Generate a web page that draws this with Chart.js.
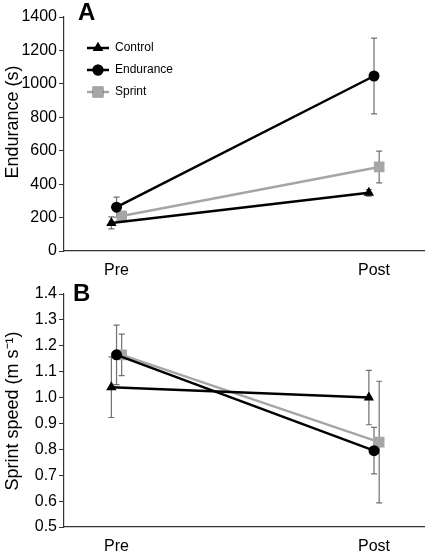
<!DOCTYPE html>
<html>
<head>
<meta charset="utf-8">
<script src="https://cdn.jsdelivr.net/npm/chart.js@4.4.1/dist/chart.umd.min.js"></script>
<style>
  html, body { margin: 0; padding: 0; background: #fff; }
  .panel { position: absolute; left: 0; width: 432px; height: 279px; }
  #panelA { top: 0; }
  #panelB { top: 279px; }
</style>
</head>
<body>
<div class="panel" id="panelA"><canvas id="chartA"></canvas></div>
<div class="panel" id="panelB"><canvas id="chartB"></canvas></div>
<script>
// Data
const categories = ['Pre', 'Post'];
const groups = ['Control', 'Endurance', 'Sprint'];

// Panel A - endurance (s)
const enduranceMean = {
    Control:   [168, 348],
    Endurance: [262, 1047],
    Sprint:    [210, 503]
};
const enduranceErr = {
    Control:   [36, 20],
    Endurance: [60, 227],
    Sprint:    [25, 95]
};
const enduranceTicks = [0, 200, 400, 600, 800, 1000, 1200, 1400];

// Panel B - sprint speed (m/s)
const speedMean = {
    Control:   [1.04, 1.00],
    Endurance: [1.165, 0.795],
    Sprint:    [1.165, 0.828]
};
const speedErr = {
    Control:   [0.117, 0.105],
    Endurance: [0.115, 0.09],
    Sprint:    [0.08, 0.235]
};
const speedTicks = [0.5, 0.6, 0.7, 0.8, 0.9, 1.0, 1.1, 1.2, 1.3, 1.4];

// styling per group
const styles = {
    Control:   { color: '#000000', point: 'triangle', radius: 6 },
    Endurance: { color: '#000000', point: 'circle', radius: 5.5 },
    Sprint:    { color: '#a6a6a6', point: 'rect', radius: 7.5 }
};
const jitter = { Control: -0.02, Endurance: 0, Sprint: 0.02 };
const FONT = '"Liberation Sans", Arial, Helvetica, sans-serif';

function buildDatasets(means, errs) {
    return groups.map(g => ({
        label: g,
        data: categories.map((c, i) => ({ x: i + jitter[g], y: means[g][i], err: errs[g][i] })),
        borderColor: styles[g].color,
        backgroundColor: styles[g].color,
        borderWidth: 2.5,
        pointStyle: styles[g].point,
        pointRadius: styles[g].radius,
        pointHoverRadius: styles[g].radius,
        pointBorderWidth: 0,
        tension: 0
    }));
}

// error bars drawn through the chart's own scales
const errorBars = {
    id: 'errorBars',
    beforeDatasetsDraw(chart) {
        const ctx = chart.ctx;
        const xs = chart.scales.x, ys = chart.scales.y;
        ctx.save();
        ctx.strokeStyle = '#707070';
        ctx.lineWidth = 1.2;
        chart.data.datasets.forEach(ds => {
            ds.data.forEach(p => {
                const x = xs.getPixelForValue(p.x);
                const top = ys.getPixelForValue(p.y + p.err);
                const bot = ys.getPixelForValue(p.y - p.err);
                ctx.beginPath();
                ctx.moveTo(x, top); ctx.lineTo(x, bot);
                ctx.moveTo(x - 3, top); ctx.lineTo(x + 3, top);
                ctx.moveTo(x - 3, bot); ctx.lineTo(x + 3, bot);
                ctx.stroke();
            });
        });
        ctx.restore();
    }
};

// panel letter, y title and optional inset legend
const decorations = {
    id: 'decorations',
    afterDraw(chart, args, opts) {
        const ctx = chart.ctx;
        ctx.save();
        ctx.fillStyle = '#000';
        ctx.font = 'bold 24px ' + FONT;
        ctx.textBaseline = 'middle';
        ctx.fillText(opts.letter, opts.letterX, opts.letterY);

        // y axis title
        ctx.save();
        ctx.translate(13, opts.titleY);
        ctx.rotate(-Math.PI / 2);
        ctx.textAlign = 'center';
        ctx.font = '18px ' + FONT;
        ctx.fillText(opts.title, 0, 0);
        ctx.restore();

        if (opts.legend) {
            ctx.font = '12px ' + FONT;
            chart.data.datasets.forEach((ds, i) => {
                const y = 48 + i * 22;
                ctx.strokeStyle = ds.borderColor;
                ctx.lineWidth = 2.5;
                ctx.beginPath();
                ctx.moveTo(87, y); ctx.lineTo(109, y);
                ctx.stroke();
                Chart.helpers.drawPoint(ctx, {
                    pointStyle: ds.pointStyle,
                    radius: ds.pointRadius,
                    borderWidth: 0
                }, 98, y);
                ctx.fillStyle = ds.backgroundColor;
                ctx.fill();
                ctx.fillStyle = '#000';
                ctx.fillText(ds.label, 115, y);
            });
        }
        ctx.restore();
    }
};

function makeChart(id, means, errs, yTicks, decimals, pad, xHeight, deco) {
    const yMin = yTicks[0], yMax = yTicks[yTicks.length - 1];
    return new Chart(document.getElementById(id).getContext('2d'), {
        type: 'line',
        data: { datasets: buildDatasets(means, errs) },
        plugins: [errorBars, decorations],
        options: {
            responsive: true,
            maintainAspectRatio: false,
            animation: false,
            layout: { padding: pad },
            plugins: {
                legend: { display: false },
                tooltip: { enabled: false },
                decorations: deco
            },
            scales: {
                x: {
                    type: 'linear',
                    min: -0.204,
                    max: 1.196,
                    afterBuildTicks: s => { s.ticks = categories.map((c, i) => ({ value: i })); },
                    afterFit: s => { s.height = xHeight; },
                    ticks: {
                        color: '#000',
                        font: { family: FONT, size: 16 },
                        padding: 10,
                        callback: v => categories[v]
                    },
                    grid: { display: false, drawTicks: false },
                    border: { color: '#333', width: 1.2 }
                },
                y: {
                    min: yMin,
                    max: yMax,
                    afterBuildTicks: s => { s.ticks = yTicks.map(v => ({ value: v })); },
                    afterFit: s => { s.width = 64 - pad.left; },
                    ticks: {
                        color: '#000',
                        font: { family: FONT, size: 16 },
                        padding: 2,
                        callback: v => v.toFixed(decimals)
                    },
                    grid: { drawOnChartArea: false, tickLength: 5, color: '#333' },
                    border: { color: '#333', width: 1.2 }
                }
            }
        }
    });
}

makeChart('chartA', enduranceMean, enduranceErr, enduranceTicks, 0,
    { top: 17, right: 4, left: 4, bottom: 0 }, 28,
    { letter: 'A', letterX: 78, letterY: 13, legend: true, title: 'Endurance (s)', titleY: 122 });

makeChart('chartB', speedMean, speedErr, speedTicks, 1,
    { top: 15, right: 4, left: 4, bottom: 0 }, 31,
    { letter: 'B', letterX: 73, letterY: 15, legend: false, title: 'Sprint speed (m s\u207B\u00B9)', titleY: 132 });
</script>
</body>
</html>
